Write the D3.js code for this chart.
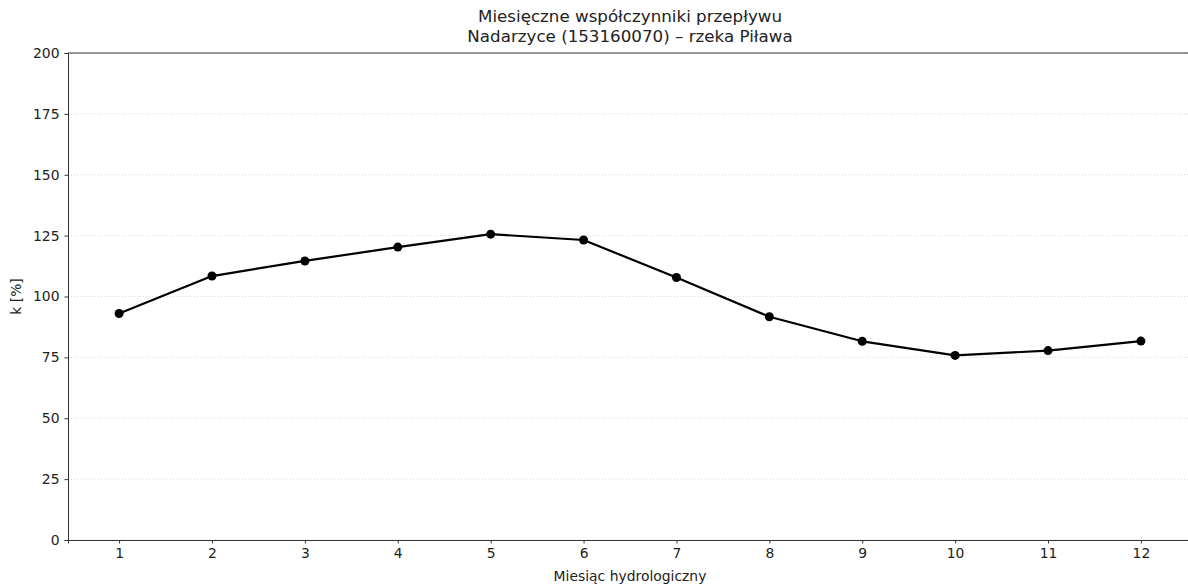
<!DOCTYPE html>
<html><head><meta charset="utf-8">
<script src="https://cdn.jsdelivr.net/npm/d3@7"></script>
<style>body{margin:0;background:#fff}svg{display:block}text{font-family:"DejaVu Sans",sans-serif;fill:#222}</style>
</head><body><svg id="c" width="1188" height="586"></svg>
<script>
const months = [1,2,3,4,5,6,7,8,9,10,11,12];
const kValues = [93.0,108.4,114.6,120.3,125.6,123.2,107.8,91.7,81.6,75.8,77.8,81.7];
const yTicks = [0,25,50,75,100,125,150,175,200];
const titleLines = ["Miesięczne współczynniki przepływu","Nadarzyce (153160070) – rzeka Piława"];

const svg = d3.select("#c");
const L=68, R=1192, T=53, B=540;
const x = d3.scaleLinear().domain([0.45,12.55]).range([L,R]);
const y = d3.scaleLinear().domain([0,200]).range([B,T]);

// grid
svg.append("g").selectAll("line").data(yTicks).join("line")
  .attr("x1",L).attr("x2",R).attr("y1",d=>y(d)).attr("y2",d=>y(d))
  .attr("stroke","#cfcfcf").attr("stroke-width",0.8).attr("stroke-dasharray","1,2");

// axes
const ax = svg.append("g").attr("transform",`translate(0,${B})`)
  .call(d3.axisBottom(x).tickValues(months).tickSize(3.5).tickPadding(5).tickFormat(d3.format("d")));
const ay = svg.append("g").attr("transform",`translate(${L},0)`)
  .call(d3.axisLeft(y).tickValues(yTicks).tickSize(3.5).tickPadding(5).tickFormat(d3.format("d")));
[ax,ay].forEach(g=>{
  g.selectAll("text").style("font-size","13.9px").style("font-family","DejaVu Sans").attr("fill","#222");
  g.selectAll("line").attr("stroke","#333");
  g.select(".domain").attr("stroke","#333").attr("stroke-width",1);
});
// top spine
svg.append("line").attr("x1",L).attr("x2",R).attr("y1",T).attr("y2",T).attr("stroke","#333");

// line
const pts = months.map((m,i)=>[m,kValues[i]]);
svg.append("path").datum(pts)
  .attr("d",d3.line().x(d=>x(d[0])).y(d=>y(d[1])))
  .attr("fill","none").attr("stroke","#000").attr("stroke-width",2.2).attr("stroke-linejoin","round");
svg.append("g").selectAll("circle").data(pts).join("circle")
  .attr("cx",d=>x(d[0])).attr("cy",d=>y(d[1])).attr("r",4.5).attr("fill","#000");

// titles
svg.append("g").selectAll("text").data(titleLines).join("text")
  .attr("x",(L+R)/2).attr("y",(d,i)=>22+i*19.5).attr("text-anchor","middle")
  .style("font-size","16.7px").text(d=>d);
svg.append("text").attr("x",(L+R)/2).attr("y",581).attr("text-anchor","middle")
  .style("font-size","13.9px").text("Miesiąc hydrologiczny");
svg.append("text").attr("transform",`translate(21,${(T+B)/2}) rotate(-90)`).attr("text-anchor","middle")
  .style("font-size","13.9px").text("k [%]");
</script></body></html>
